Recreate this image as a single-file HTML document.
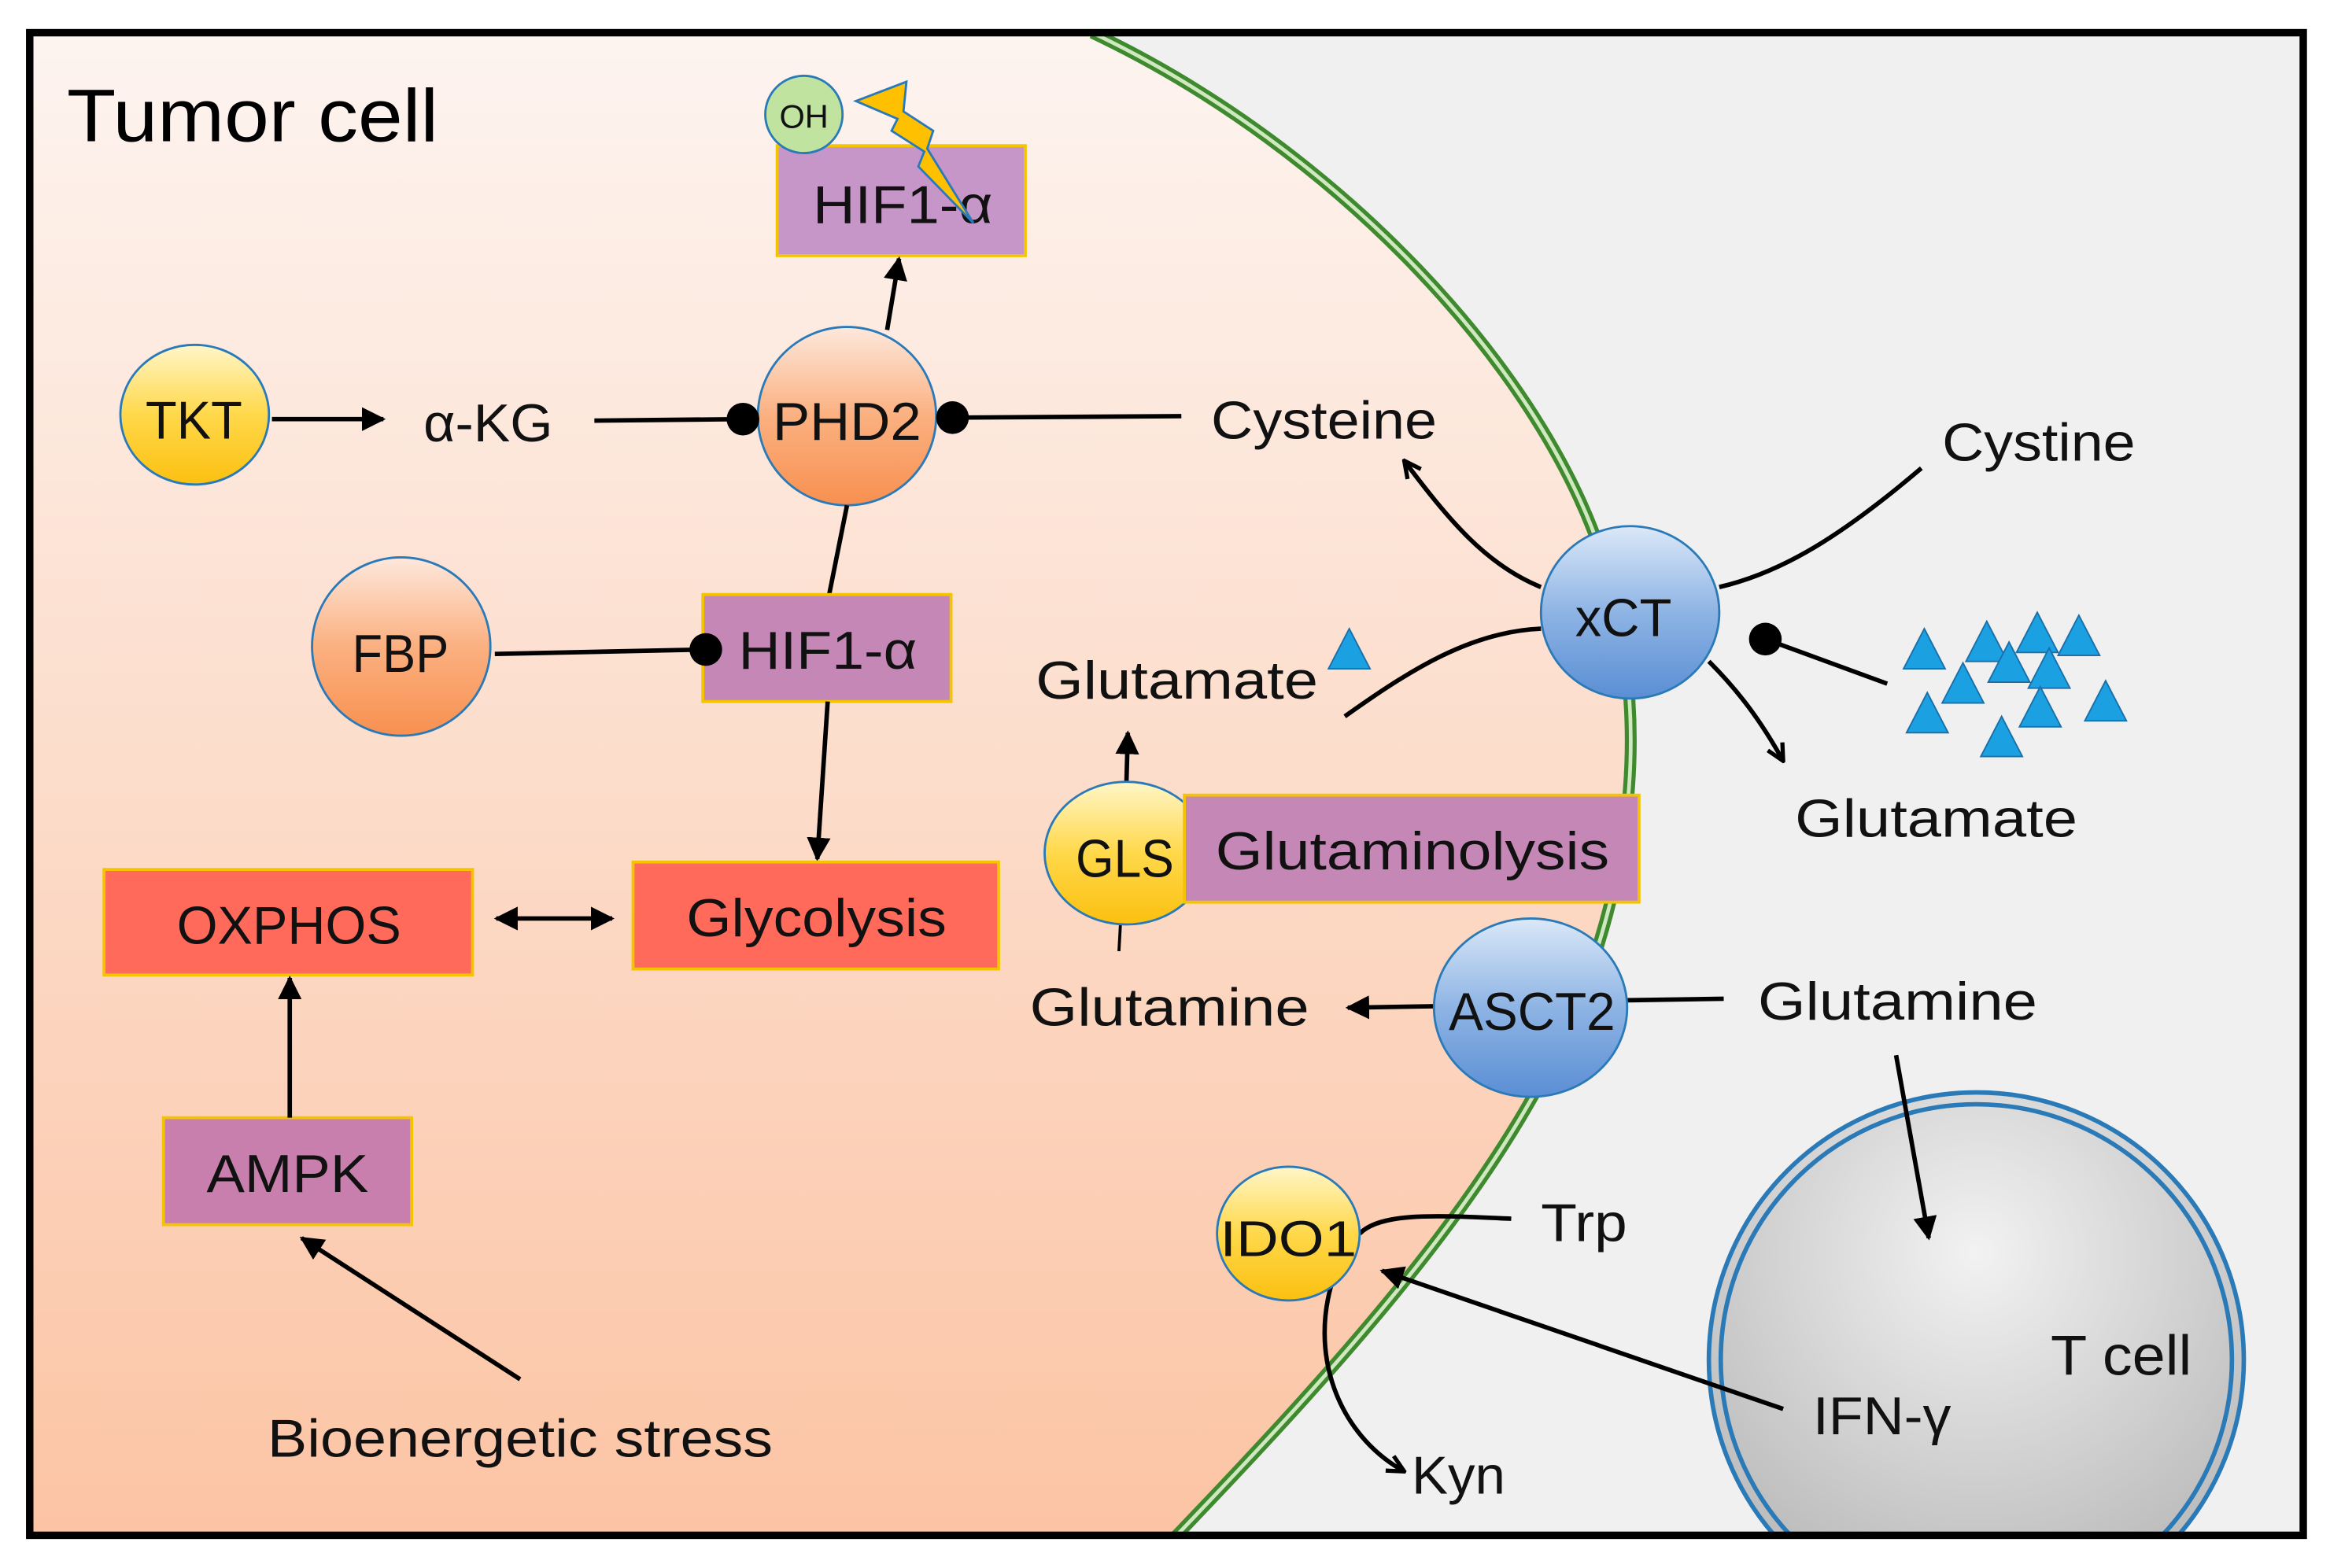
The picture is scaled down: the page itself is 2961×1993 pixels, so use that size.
<!DOCTYPE html>
<html><head><meta charset="utf-8"><style>
html,body{margin:0;padding:0;background:#fff;}
svg{display:block;}
text{font-family:"Liberation Sans","DejaVu Sans",sans-serif;fill:#111;}
</style></head><body>
<svg width="2961" height="1993" viewBox="0 0 1568 1055" preserveAspectRatio="none" xmlns="http://www.w3.org/2000/svg">
<defs>
<linearGradient id="bgL" x1="0" y1="0" x2="0" y2="1"><stop offset="0" stop-color="#fdf4f0"/><stop offset="1" stop-color="#fcc4a4"/></linearGradient>
<linearGradient id="yel" x1="0" y1="0" x2="0" y2="1"><stop offset="0" stop-color="#fff6c8"/><stop offset="0.5" stop-color="#ffd84a"/><stop offset="1" stop-color="#fbc010"/></linearGradient>
<linearGradient id="org" x1="0" y1="0" x2="0" y2="1"><stop offset="0" stop-color="#fde8dc"/><stop offset="0.5" stop-color="#fbb080"/><stop offset="1" stop-color="#f89050"/></linearGradient>
<linearGradient id="blu" x1="0" y1="0" x2="0" y2="1"><stop offset="0" stop-color="#dbe8f8"/><stop offset="0.5" stop-color="#8eb4e4"/><stop offset="1" stop-color="#5a8ed4"/></linearGradient>
<radialGradient id="tc" cx="0.5" cy="0.3" r="0.7"><stop offset="0" stop-color="#f2f2f2"/><stop offset="1" stop-color="#b8b8b8"/></radialGradient>
<marker id="ah" viewBox="0 0 10 10" refX="9" refY="5" markerWidth="16" markerHeight="16" orient="auto-start-reverse" markerUnits="userSpaceOnUse"><path d="M0,0L10,5L0,10z" fill="#000"/></marker>
<marker id="ao" viewBox="0 0 10 10" refX="9" refY="5" markerWidth="14" markerHeight="14" orient="auto" markerUnits="userSpaceOnUse"><path d="M1,1L9,5L1,9" fill="none" stroke="#000" stroke-width="2"/></marker>
<clipPath id="box"><rect x="20" y="22" width="1530" height="1011"/></clipPath>
</defs>
<rect x="0" y="0" width="1568" height="1055" fill="#fff"/>
<g clip-path="url(#box)">
<rect x="20" y="22" width="1530" height="1011" fill="#f0f0f0"/>
<path d="M20,22 L735,22 C900,100 1040,250 1080,380 C1110,480 1100,580 1060,680 C1010,800 900,920 790,1035 L20,1035 Z" fill="url(#bgL)"/>
<path d="M735,22 C900,100 1040,250 1080,380 C1110,480 1100,580 1060,680 C1010,800 900,920 790,1035" fill="none" stroke="#3f8a2e" stroke-width="8"/>
<path d="M735,22 C900,100 1040,250 1080,380 C1110,480 1100,580 1060,680 C1010,800 900,920 790,1035" fill="none" stroke="#cfe8c0" stroke-width="2.5"/>
<circle cx="1330" cy="915" r="180" fill="url(#tc)" stroke="#2a7ab8" stroke-width="3"/>
<circle cx="1330" cy="915" r="172" fill="none" stroke="#2a7ab8" stroke-width="3"/>
</g>
<rect x="20" y="22" width="1530" height="1011" fill="none" stroke="#000" stroke-width="5"/>
<text x="45" y="95" font-size="50" textLength="250" lengthAdjust="spacingAndGlyphs" style="fill:#000">Tumor cell</text>
<rect x="523" y="98" width="167" height="74" fill="#c796c8" stroke="#f5c400" stroke-width="2"/>
<text x="547" y="150" font-size="36" textLength="121" lengthAdjust="spacingAndGlyphs">HIF1-α</text>
<circle cx="541" cy="77" r="26" fill="#c0e4a0" stroke="#2a7ab8" stroke-width="1.5"/>
<text x="541" y="86" font-size="22" text-anchor="middle">OH</text>
<path d="M576,68 L610,55 L608,75 L628,88 L624,100 L655,150 L618,112 L622,102 L600,88 L604,80 Z" fill="#ffc000" stroke="#2a7ab8" stroke-width="1.5"/>
<line x1="597" y1="222" x2="605" y2="174" stroke="#000" stroke-width="3" marker-end="url(#ah)"/>
<ellipse cx="131" cy="279" rx="50" ry="47" fill="url(#yel)" stroke="#2a7ab8" stroke-width="1.5"/>
<text x="98" y="295" font-size="36" textLength="65" lengthAdjust="spacingAndGlyphs">TKT</text>
<line x1="183" y1="282" x2="258" y2="282" stroke="#000" stroke-width="3" marker-end="url(#ah)"/>
<text x="285" y="297" font-size="36" textLength="87" lengthAdjust="spacingAndGlyphs">α-KG</text>
<line x1="400" y1="283" x2="500" y2="282" stroke="#000" stroke-width="3"/>
<ellipse cx="570" cy="280" rx="60" ry="60" fill="url(#org)" stroke="#2a7ab8" stroke-width="1.5"/>
<circle cx="500" cy="282" r="11" fill="#000"/>
<text x="520" y="296" font-size="36" textLength="100" lengthAdjust="spacingAndGlyphs">PHD2</text>
<line x1="641" y1="281" x2="795" y2="280" stroke="#000" stroke-width="3"/>
<circle cx="641" cy="281" r="11" fill="#000"/>
<text x="815" y="295" font-size="36" textLength="152" lengthAdjust="spacingAndGlyphs">Cysteine</text>
<line x1="570" y1="340" x2="558" y2="400" stroke="#000" stroke-width="3"/>
<ellipse cx="270" cy="435" rx="60" ry="60" fill="url(#org)" stroke="#2a7ab8" stroke-width="1.5"/>
<text x="237" y="452" font-size="36" textLength="65" lengthAdjust="spacingAndGlyphs">FBP</text>
<rect x="473" y="400" width="167" height="72" fill="#c487b6" stroke="#f5c400" stroke-width="2"/>
<text x="497" y="450" font-size="36" textLength="120" lengthAdjust="spacingAndGlyphs">HIF1-α</text>
<line x1="333" y1="440" x2="475" y2="437" stroke="#000" stroke-width="3"/>
<circle cx="475" cy="437" r="11" fill="#000"/>
<line x1="557" y1="472" x2="550" y2="578" stroke="#000" stroke-width="3" marker-end="url(#ah)"/>
<rect x="70" y="585" width="248" height="71" fill="#ff6a5a" stroke="#f5c400" stroke-width="2"/>
<text x="119" y="635" font-size="36" textLength="151" lengthAdjust="spacingAndGlyphs">OXPHOS</text>
<rect x="426" y="580" width="246" height="72" fill="#ff6a5a" stroke="#f5c400" stroke-width="2"/>
<text x="462" y="630" font-size="36" textLength="175" lengthAdjust="spacingAndGlyphs">Glycolysis</text>
<line x1="334" y1="618" x2="412" y2="618" stroke="#000" stroke-width="3" marker-start="url(#ah)" marker-end="url(#ah)"/>
<rect x="110" y="752" width="167" height="72" fill="#c97fad" stroke="#f5c400" stroke-width="2"/>
<text x="139" y="802" font-size="36" textLength="109" lengthAdjust="spacingAndGlyphs">AMPK</text>
<line x1="195" y1="752" x2="195" y2="658" stroke="#000" stroke-width="3" marker-end="url(#ah)"/>
<line x1="350" y1="928" x2="203" y2="833" stroke="#000" stroke-width="3" marker-end="url(#ah)"/>
<text x="180" y="980" font-size="36" textLength="340" lengthAdjust="spacingAndGlyphs">Bioenergetic stress</text>
<path d="M1037,395 C1000,380 975,350 945,310" fill="none" stroke="#000" stroke-width="3" marker-end="url(#ao)"/>
<path d="M1157,395 C1200,385 1240,360 1293,315" fill="none" stroke="#000" stroke-width="3"/>
<path d="M905,482 C950,450 990,425 1037,423" fill="none" stroke="#000" stroke-width="3"/>
<path d="M1150,445 C1170,465 1185,485 1200,512" fill="none" stroke="#000" stroke-width="3" marker-end="url(#ao)"/>
<ellipse cx="1097" cy="412" rx="60" ry="58" fill="url(#blu)" stroke="#2a7ab8" stroke-width="1.5"/>
<text x="1060" y="428" font-size="36" textLength="65" lengthAdjust="spacingAndGlyphs">xCT</text>
<text x="1307" y="310" font-size="36" textLength="130" lengthAdjust="spacingAndGlyphs">Cystine</text>
<text x="697" y="470" font-size="36" textLength="190" lengthAdjust="spacingAndGlyphs">Glutamate</text>
<path d="M908,423 L894,450 L922,450 Z" fill="#1ba1e2" stroke="#1a6fa8" stroke-width="1"/>
<line x1="1188" y1="430" x2="1270" y2="460" stroke="#000" stroke-width="3"/>
<circle cx="1188" cy="430" r="11" fill="#000"/>
<g fill="#1ba1e2" stroke="#1a6fa8" stroke-width="1">
<path d="M1295,423 L1281,450 L1309,450Z"/><path d="M1337,418 L1323,445 L1351,445Z"/><path d="M1371,412 L1357,439 L1385,439Z"/><path d="M1399,414 L1385,441 L1413,441Z"/>
<path d="M1352,432 L1338,459 L1366,459Z"/><path d="M1379,436 L1365,463 L1393,463Z"/><path d="M1321,446 L1307,473 L1335,473Z"/>
<path d="M1297,466 L1283,493 L1311,493Z"/><path d="M1373,462 L1359,489 L1387,489Z"/><path d="M1417,458 L1403,485 L1431,485Z"/><path d="M1347,482 L1333,509 L1361,509Z"/>
</g>
<text x="1208" y="563" font-size="36" textLength="190" lengthAdjust="spacingAndGlyphs">Glutamate</text>
<line x1="758" y1="528" x2="759" y2="493" stroke="#000" stroke-width="3" marker-end="url(#ah)"/>
<line x1="754" y1="622" x2="753" y2="640" stroke="#000" stroke-width="2"/>
<ellipse cx="758" cy="574" rx="55" ry="48" fill="url(#yel)" stroke="#2a7ab8" stroke-width="1.5"/>
<text x="724" y="590" font-size="36" textLength="66" lengthAdjust="spacingAndGlyphs">GLS</text>
<rect x="797" y="535" width="306" height="72" fill="#c487b6" stroke="#f5c400" stroke-width="2"/>
<text x="818" y="585" font-size="36" textLength="265" lengthAdjust="spacingAndGlyphs">Glutaminolysis</text>
<text x="693" y="690" font-size="36" textLength="188" lengthAdjust="spacingAndGlyphs">Glutamine</text>
<line x1="966" y1="677" x2="907" y2="678" stroke="#000" stroke-width="3" marker-end="url(#ah)"/>
<line x1="1095" y1="673" x2="1160" y2="672" stroke="#000" stroke-width="3"/>
<ellipse cx="1030" cy="678" rx="65" ry="60" fill="url(#blu)" stroke="#2a7ab8" stroke-width="1.5"/>
<text x="975" y="693" font-size="36" textLength="112" lengthAdjust="spacingAndGlyphs">ASCT2</text>
<text x="1183" y="686" font-size="36" textLength="188" lengthAdjust="spacingAndGlyphs">Glutamine</text>
<line x1="1276" y1="710" x2="1298" y2="833" stroke="#000" stroke-width="3" marker-end="url(#ah)"/>
<text x="1380" y="925" font-size="38" textLength="95" lengthAdjust="spacingAndGlyphs">T cell</text>
<path d="M915,830 C930,815 970,818 1017,820" fill="none" stroke="#000" stroke-width="3"/>
<path d="M898,858 C880,910 900,965 945,990" fill="none" stroke="#000" stroke-width="3" marker-end="url(#ao)"/>
<ellipse cx="867" cy="830" rx="48" ry="45" fill="url(#yel)" stroke="#2a7ab8" stroke-width="1.5"/>
<text x="821" y="845" font-size="34" textLength="92" lengthAdjust="spacingAndGlyphs">IDO1</text>
<text x="1037" y="835" font-size="36" textLength="58" lengthAdjust="spacingAndGlyphs">Trp</text>
<line x1="1200" y1="948" x2="930" y2="855" stroke="#000" stroke-width="3" marker-end="url(#ah)"/>
<text x="1220" y="965" font-size="36" textLength="93" lengthAdjust="spacingAndGlyphs">IFN-γ</text>
<text x="950" y="1005" font-size="36" textLength="63" lengthAdjust="spacingAndGlyphs">Kyn</text>
</svg>
</body></html>
